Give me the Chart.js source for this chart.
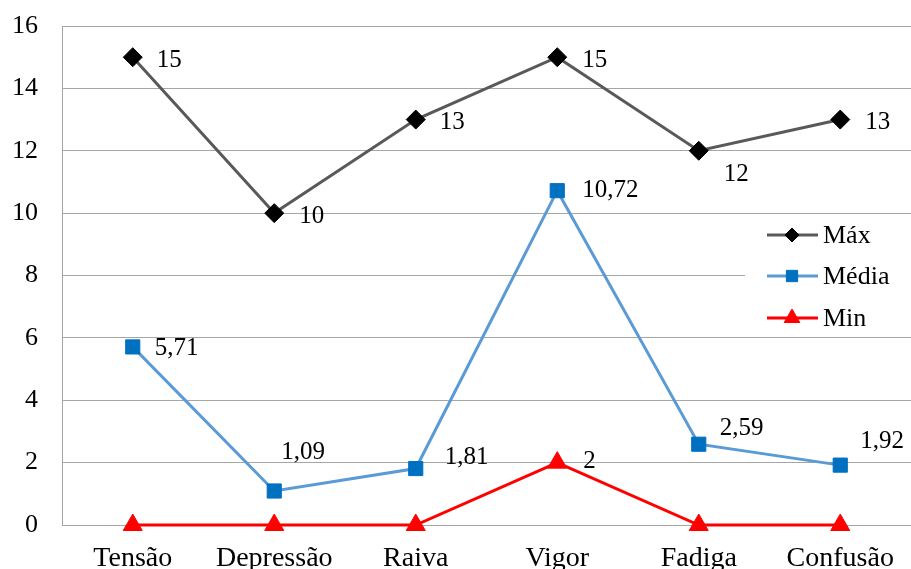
<!DOCTYPE html>
<html>
<head>
<meta charset="utf-8">
<script src="https://cdn.jsdelivr.net/npm/chart.js@4.4.0/dist/chart.umd.min.js"></script>
<style>
  html, body { margin: 0; padding: 0; background: #fff; }
  #wrap { width: 911px; height: 569px; position: relative; }
</style>
</head>
<body>
<div id="wrap"><canvas id="myChart"></canvas></div>
<script>
// Data
const categories = ['Tensão', 'Depressão', 'Raiva', 'Vigor', 'Fadiga', 'Confusão'];
const maxValues = [15, 10, 13, 15, 12, 13];
const mediaValues = [5.71, 1.09, 1.81, 10.72, 2.59, 1.92];
const minValues = [0, 0, 0, 2, 0, 0];
const yTicks = [0, 2, 4, 6, 8, 10, 12, 14, 16];

// Label offsets (dx, dy) from each point; null = no label
const maxLabelPos = [[24, 3], [25, 3], [24, 3], [25, 3], [25, 24], [25, 3]];
const mediaLabelPos = [[22, 2], [7, -39], [29, -11], [25, 0], [21, -16], [20, -24]];
const minLabelPos = [null, null, null, [26, -1], null, null];

const serif = '"Liberation Serif", "Times New Roman", serif';
const gridColor = '#a6a6a6';

const fmt = v => String(v).replace('.', ',');

// Value labels next to the points
const valueLabels = {
    id: 'valueLabels',
    afterDatasetsDraw(chart) {
        const ctx = chart.ctx;
        ctx.save();
        ctx.font = '25px ' + serif;
        ctx.fillStyle = '#000';
        ctx.textAlign = 'left';
        ctx.textBaseline = 'middle';
        chart.data.datasets.forEach((ds, i) => {
            const meta = chart.getDatasetMeta(i);
            meta.data.forEach((pt, j) => {
                const off = ds.labelPos[j];
                if (!off) return;
                ctx.fillText(fmt(ds.data[j]), pt.x + off[0], pt.y + off[1]);
            });
        });
        ctx.restore();
    }
};

// Legend inside the plot on the right
const insideLegend = {
    id: 'insideLegend',
    afterDraw(chart) {
        const ctx = chart.ctx;
        ctx.save();
        ctx.fillStyle = '#fff';
        ctx.fillRect(745, 216, 166, 120);
        const rows = [235, 276, 318];
        chart.data.datasets.forEach((ds, i) => {
            const y = rows[i];
            ctx.strokeStyle = ds.borderColor;
            ctx.lineWidth = 3;
            ctx.beginPath();
            ctx.moveTo(767, y);
            ctx.lineTo(818, y);
            ctx.stroke();
            ctx.fillStyle = ds.pointBackgroundColor;
            ctx.strokeStyle = ds.pointBorderColor;
            ctx.lineWidth = 1;
            Chart.helpers.drawPoint(ctx, { pointStyle: ds.pointStyle, radius: ds.legendRadius, rotation: 0, borderWidth: 1 }, 792, y);
            ctx.fillStyle = '#000';
            ctx.font = '26px ' + serif;
            ctx.textAlign = 'left';
            ctx.textBaseline = 'middle';
            ctx.fillText(ds.label, 823, y + 1);
        });
        ctx.restore();
    }
};

const ctx = document.getElementById('myChart').getContext('2d');
const myChart = new Chart(ctx, {
    type: 'line',
    data: {
        labels: categories,
        datasets: [{
            label: 'Máx',
            data: maxValues,
            labelPos: maxLabelPos,
            borderColor: '#595959',
            borderWidth: 3,
            pointStyle: 'rectRot',
            pointRadius: 9.5,
            legendRadius: 7,
            pointBackgroundColor: '#000',
            pointBorderColor: '#000',
            pointBorderWidth: 1,
            clip: false
        }, {
            label: 'Média',
            data: mediaValues,
            labelPos: mediaLabelPos,
            borderColor: '#5b9bd5',
            borderWidth: 3,
            pointStyle: 'rect',
            pointRadius: 10,
            legendRadius: 8,
            pointBackgroundColor: '#0070c0',
            pointBorderColor: '#0070c0',
            pointBorderWidth: 1,
            clip: false
        }, {
            label: 'Min',
            data: minValues,
            labelPos: minLabelPos,
            borderColor: '#ff0000',
            borderWidth: 3,
            pointStyle: 'triangle',
            pointRadius: 11,
            legendRadius: 9,
            pointBackgroundColor: '#ff0000',
            pointBorderColor: '#ff0000',
            pointBorderWidth: 1,
            clip: false
        }]
    },
    options: {
        responsive: true,
        maintainAspectRatio: false,
        animation: false,
        layout: { autoPadding: false, padding: { top: 26, right: 0, left: 0, bottom: 0 } },
        plugins: {
            legend: { display: false },
            tooltip: { enabled: false }
        },
        scales: {
            x: {
                offset: true,
                grid: { display: false, drawTicks: false },
                border: { color: gridColor, width: 1 },
                ticks: { color: '#000', font: { family: serif, size: 28 }, padding: 17, maxRotation: 0, autoSkip: false },
                afterFit(scale) {
                    scale.height = 44;
                    scale.paddingLeft = 0;
                    scale.paddingRight = 0;
                }
            },
            y: {
                min: 0,
                max: 16,
                afterBuildTicks(scale) { scale.ticks = yTicks.map(v => ({ value: v })); },
                grid: { color: gridColor, lineWidth: 1, drawTicks: false },
                border: { color: gridColor, width: 1 },
                ticks: { color: '#000', font: { family: serif, size: 26 }, padding: 24 },
                afterFit(scale) {
                    scale.width = 62;
                    scale.paddingTop = 0;
                    scale.paddingBottom = 0;
                }
            }
        }
    },
    plugins: [valueLabels, insideLegend]
});
</script>
</body>
</html>
